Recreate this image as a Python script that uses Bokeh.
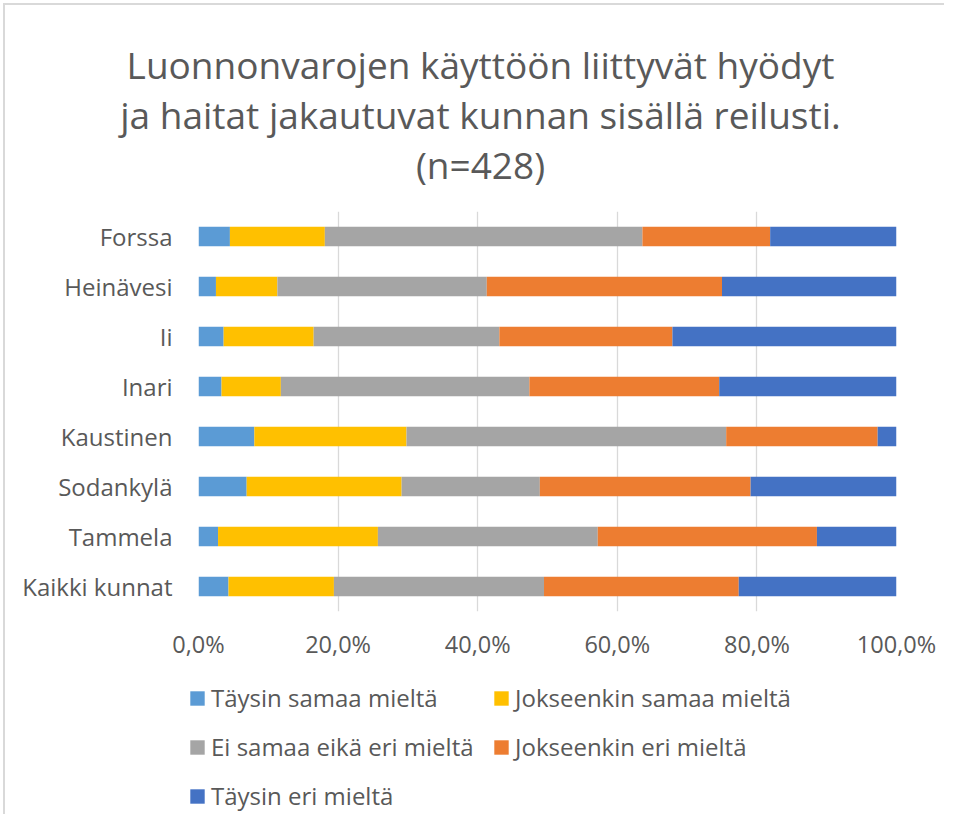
from bokeh.plotting import figure
from bokeh.models import (ColumnDataSource, FactorRange, Range1d, FixedTicker,
                          CustomJSTickFormatter, Label, Legend, LegendItem)
from bokeh.layouts import column
from bokeh.embed import file_html
from bokeh.resources import INLINE

# ---------------- data ----------------
municipalities = ["Forssa", "Heinävesi", "Ii", "Inari", "Kaustinen",
                  "Sodankylä", "Tammela", "Kaikki kunnat"]
series_names = ["Täysin samaa mieltä", "Jokseenkin samaa mieltä",
                "Ei samaa eikä eri mieltä", "Jokseenkin eri mieltä",
                "Täysin eri mieltä"]
taysin_samaa = [4.5, 2.5, 3.6, 3.3, 8.0, 6.9, 2.8, 4.3]
jokseenkin_samaa = [13.6, 8.8, 12.9, 8.5, 21.8, 22.2, 22.9, 15.1]
ei_samaa_eika_eri = [45.5, 30.0, 26.6, 35.6, 45.8, 19.8, 31.5, 30.1]
jokseenkin_eri = [18.3, 33.7, 24.8, 27.2, 21.7, 30.2, 31.4, 27.9]
taysin_eri = [18.1, 25.0, 32.1, 25.4, 2.7, 20.9, 11.4, 22.6]
x_ticks = [0, 20, 40, 60, 80, 100]
title_lines = ["Luonnonvarojen käyttöön liittyvät hyödyt",
               "ja haitat jakautuvat kunnan sisällä reilusti.",
               "(n=428)"]

colors = ["#5B9BD5", "#FFC000", "#A5A5A5", "#ED7D31", "#4472C4"]
keys = ["s1", "s2", "s3", "s4", "s5"]

source = ColumnDataSource(dict(
    cat=municipalities,
    s1=taysin_samaa, s2=jokseenkin_samaa, s3=ei_samaa_eika_eri,
    s4=jokseenkin_eri, s5=taysin_eri,
))

FONT = "Open Sans"
TXT = "#595959"
OFF = 5          # chart-area border offset (content starts at x=5, y=5)
W = 944 - OFF


def bare_figure(h):
    f = figure(width=W, height=h, output_backend="svg", toolbar_location=None,
               x_range=Range1d(0, 1), y_range=Range1d(0, 1),
               x_axis_location=None, y_axis_location=None,
               min_border=0, min_border_left=0, min_border_right=0,
               min_border_top=0, min_border_bottom=0, frame_align=False)
    f.outline_line_color = None
    f.grid.visible = False
    f.background_fill_color = "white"
    f.border_fill_color = "white"
    return f


# ---------------- title ----------------
TH = 190 - OFF
title_fig = bare_figure(TH)
for i, line in enumerate(title_lines):
    title_fig.add_layout(Label(x=480 - OFF, y=TH - (64 + 50 * i - OFF),
                               x_units="screen", y_units="screen", text=line,
                               text_align="center", text_baseline="alphabetic",
                               text_font=FONT, text_font_size="37px",
                               text_color=TXT))

# ---------------- main chart ----------------
p = figure(width=W, height=480, output_backend="svg", toolbar_location=None,
           y_range=FactorRange(factors=list(reversed(municipalities)), range_padding=0),
           x_range=Range1d(0, 100), frame_align=False,
           min_border_left=198 - OFF, min_border_right=W - (896 - OFF),
           min_border_top=21, min_border_bottom=59)
p.outline_line_color = None
p.background_fill_color = "white"
p.border_fill_color = "white"

renderers = p.hbar_stack(keys, y="cat", height=0.39, color=colors, source=source,
                         line_color=None)

p.xaxis.ticker = FixedTicker(ticks=x_ticks)
p.xaxis.formatter = CustomJSTickFormatter(
    code="return tick.toFixed(1).replace('.', ',') + '%';")
for ax in (p.xaxis, p.yaxis):
    ax.axis_line_color = None
    ax.major_tick_line_color = None
    ax.minor_tick_line_color = None
    ax.major_label_text_font = FONT
    ax.major_label_text_color = TXT
p.xaxis.major_label_text_font_size = "23.5px"
p.yaxis.major_label_text_font_size = "24px"
p.xaxis.major_label_standoff = 10
p.yaxis.major_label_standoff = 20

p.xgrid.grid_line_color = "#d9d9d9"
p.xgrid.grid_line_width = 1.3
p.ygrid.grid_line_color = None

# ---------------- legend ----------------
LH = 814 - 190 - 480
legend_fig = bare_figure(LH)
items = []
for name, c in zip(series_names, colors):
    # zero-size proxy renderer, only used for the legend swatch
    r = legend_fig.hbar(y=[0], left=[0], right=[0], height=0, color=c, line_color=None)
    items.append(LegendItem(label=name, renderers=[r]))
legend = Legend(items=items, location=(188 - OFF, 2), orientation="horizontal", ncols=2,
                glyph_width=18, glyph_height=18, label_standoff=5,
                label_width=265, label_height=31, spacing=16,
                padding=0, margin=0, border_line_color=None,
                background_fill_alpha=0,
                label_text_font=FONT, label_text_font_size="24px",
                label_text_color=TXT)
legend_fig.add_layout(legend, "center")

layout = column(title_fig, p, legend_fig, spacing=0,
                styles={"border-left": "2px solid #d9d9d9",
                        "border-top": "2px solid #d9d9d9",
                        "margin-left": "3px", "margin-top": "3px"})
open("out.html", "w").write(file_html(layout, INLINE))
